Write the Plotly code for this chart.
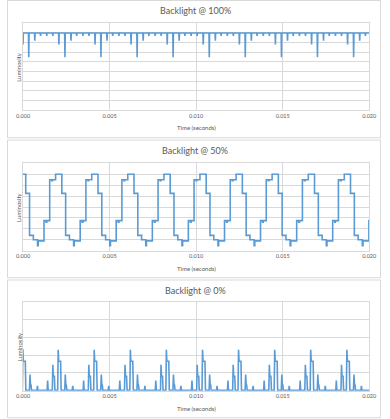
import plotly.graph_objects as go

# ---------------- text ----------------
titles = ["Backlight @ 100%", "Backlight @ 50%", "Backlight @ 0%"]
x_tick_vals = [0.0, 0.005, 0.010, 0.015, 0.020]
x_tick_text = ["0.000", "0.005", "0.010", "0.015", "0.020"]
x_title = "Time (seconds)"
y_title = "Luminosity"

# ---------------- Backlight @ 100% (spiky dips from a flat top) ----------------
top_100 = 8.0
big_dip_times_100 = [-0.00174, 0.00033, 0.00242, 0.00450, 0.00659, 0.00867,
                     0.01076, 0.01284, 0.01493, 0.01701, 0.01910]
dip_offsets_100 = [0.0, 0.00035, 0.00068, 0.00104, 0.00139, 0.00174]
dip_levels_100 = [5.5, 7.2, 7.7, 7.7, 7.7, 6.8]
dip_halfwidth_100 = 0.000018

# ---------------- Backlight @ 50% (stepped square wave) ----------------
rise_times_50 = [-0.000875, 0.00121, 0.00330, 0.00538, 0.00747, 0.00955,
                 0.01164, 0.01372, 0.01581, 0.01789, 0.01998]
step_offsets_50 = [0.0, 0.00012, 0.00016, 0.00033, 0.00045, 0.00049,
                   0.00067, 0.00103, 0.00125, 0.00147, 0.00171, 0.00175]
step_levels_50 = [2.75, 2.6, 2.75, 6.5, 6.4, 6.5,
                  7.0, 5.25, 1.4, 1.0, 0.45, 0.9]

# ---------------- Backlight @ 0% (pulse groups) ----------------
peak_times_0 = [0.00001, 0.00205, 0.00413, 0.00622, 0.00830, 0.01039,
                0.01247, 0.01456, 0.01664, 0.01873]
pulse_offsets_0 = [-0.00066, -0.00063, -0.00060, -0.00036, -0.00033, -0.00030,
                   -0.00024, -0.00021, -0.00005, -0.00002, 0.00001, 0.00012,
                   0.00015, 0.00036, 0.00039, 0.00042, 0.00045, 0.00048,
                   0.00079, 0.00082, 0.00085]
pulse_levels_0 = [0.0, 0.55, 0.0, 0.0, 1.45, 0.8,
                  0.8, 0.0, 0.0, 2.3, 1.65, 1.65,
                  0.0, 0.0, 0.9, 0.35, 0.3, 0.0,
                  0.0, 0.25, 0.0]

y_ranges = [[0, 9], [0, 8], [-0.02, 5]]

# ---------------- build series ----------------
x100, y100 = [], []
for t0 in big_dip_times_100:
    for off, lv in zip(dip_offsets_100, dip_levels_100):
        s = t0 + off
        x100 += [s - dip_halfwidth_100, s, s + dip_halfwidth_100]
        y100 += [top_100, lv, top_100]

x50, y50 = [], []
for t0 in rise_times_50:
    for off, lv in zip(step_offsets_50, step_levels_50):
        x50.append(t0 + off)
        y50.append(lv)

x0, y0 = [], []
for t0 in peak_times_0:
    for off, lv in zip(pulse_offsets_0, pulse_levels_0):
        x0.append(t0 + off)
        y0.append(lv)
x0 = [0.0] + x0 + [0.02]
y0 = [2.35] + y0 + [0.0]

W, H = 390, 419
BLUE = "#5B9BD5"
GRID = "#D9D9D9"
TXT = "#595959"
FONT = "Lato"

def fx(px):
    return px / W

def fy(py):
    return 1 - py / H

# pixel geometry of the three plot areas: (top, bottom)
plot_left, plot_right = 16.7, 376.7
areas = [(23.3, 110.3), (163.3, 250.7), (302.3, 390.7)]
boxes = [(0.5, 137.7), (140.0, 277.7), (280.0, 417.7)]
title_y = [10.7, 150.7, 290.5]

fig = go.Figure()
series = [(x100, y100, "linear"), (x50, y50, "hv"), (x0, y0, "linear")]
for i, (xs, ys, shp) in enumerate(series):
    sfx = "" if i == 0 else str(i + 1)
    fig.add_trace(go.Scatter(x=xs, y=ys, mode="lines",
                             line=dict(color=BLUE, width=1.6, shape=shp),
                             xaxis="x" + sfx, yaxis="y" + sfx,
                             showlegend=False, hoverinfo="skip"))

layout = dict(width=W, height=H, margin=dict(l=0, r=0, t=0, b=0),
              paper_bgcolor="white", plot_bgcolor="white",
              font=dict(family=FONT, color=TXT), showlegend=False,
              hovermode=False)
annotations = []
shapes = []
for i, ((top, bot), (bt, bb)) in enumerate(zip(areas, boxes)):
    sfx = "" if i == 0 else str(i + 1)
    layout["xaxis" + sfx] = dict(
        domain=[fx(plot_left), fx(plot_right)], anchor="y" + sfx,
        range=[0, 0.02], tickvals=x_tick_vals, ticktext=x_tick_text,
        showgrid=True, gridcolor=GRID, gridwidth=1, zeroline=False,
        showline=True, linecolor=GRID, linewidth=1, mirror=True, ticks="",
        tickfont=dict(size=5.5, color=TXT, family=FONT))
    layout["yaxis" + sfx] = dict(
        domain=[fy(bot), fy(top)], anchor="x" + sfx,
        range=y_ranges[i], dtick=1, tick0=0,
        showgrid=True, gridcolor=GRID, gridwidth=1, zeroline=False,
        showline=True, linecolor=GRID, linewidth=1, mirror=True,
        showticklabels=False, ticks="")
    annotations.append(dict(text=titles[i], x=fx(196), y=fy(title_y[i]),
                            xref="paper", yref="paper", showarrow=False,
                            xanchor="center", yanchor="middle",
                            font=dict(size=9, color=TXT, family=FONT)))
    annotations.append(dict(text=x_title, x=fx(196.7), y=fy(bot + 17.4),
                            xref="paper", yref="paper", showarrow=False,
                            xanchor="center", yanchor="middle",
                            font=dict(size=6, color=TXT, family=FONT)))
    annotations.append(dict(text=y_title, x=fx(12.5), y=fy((top + bot) / 2),
                            xref="paper", yref="paper", showarrow=False,
                            textangle=-90, xanchor="center", yanchor="middle",
                            font=dict(size=6, color=TXT, family=FONT)))
    shapes.append(dict(type="rect", xref="paper", yref="paper",
                       x0=fx(0.5), x1=fx(388.5), y0=fy(bb), y1=fy(bt),
                       line=dict(color=GRID, width=1), layer="below"))

layout["annotations"] = annotations
layout["shapes"] = shapes
fig.update_layout(**layout)
fig.write_html("out.html",
               config={"displayModeBar": False, "staticPlot": True},
               post_script="document.body.style.margin='0';"
                           "document.body.style.overflow='hidden';")
